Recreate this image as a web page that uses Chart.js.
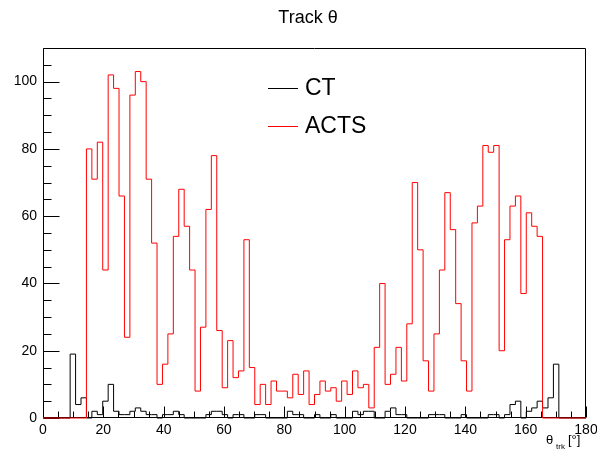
<!DOCTYPE html>
<html>
<head>
<meta charset="utf-8">
<script src="https://cdn.jsdelivr.net/npm/chart.js@4/dist/chart.umd.min.js"></script>
<style>
  html, body { margin: 0; padding: 0; background: #fff; }
  canvas { display: block; }
</style>
</head>
<body>
<canvas id="thetaChart" width="597" height="452"></canvas>
<script>
// Histogram binning: 100 bins over 0..180 degrees
const xMin = 0;
const xMax = 180;
const yMax = 110;

const chartTitle = 'Track θ';
const seriesNames = ['CT', 'ACTS'];
const xTicks = [0, 20, 40, 60, 80, 100, 120, 140, 160, 180];
const yTicks = [0, 20, 40, 60, 80, 100];

// Counts per bin
const ctCounts = [
  0, 0, 0, 0, 0, 19, 4, 6, 0, 2,
  1, 5, 10, 2, 1, 1, 2, 3, 2, 1,
  1, 0, 1, 1, 2, 1, 0, 0, 0, 0,
  1, 2, 2, 1, 0, 1, 1, 0, 0, 1,
  1, 0, 0, 0, 0, 2, 1, 1, 0, 0,
  1, 0, 0, 1, 0, 0, 0, 2, 1, 2,
  2, 0, 0, 2, 3, 1, 1, 0, 0, 0,
  0, 1, 1, 1, 0, 0, 0, 1, 0, 0,
  0, 0, 1, 1, 0, 1, 4, 5, 0, 2,
  3, 5, 3, 6, 16, 0, 0, 0, 0, 0
];

const actsCounts = [
  0, 0, 0, 0, 0, 0, 0, 0, 80, 71,
  82, 44, 102, 98, 66, 24, 96, 103, 100, 71,
  52, 10, 16, 25, 54, 68, 57, 44, 8, 27,
  62, 78, 26, 9, 23, 12, 14, 53, 15, 4,
  10, 4, 11, 8, 8, 6, 13, 7, 14, 4,
  7, 11, 8, 9, 5, 11, 7, 14, 9, 10,
  3, 21, 40, 10, 13, 21, 11, 28, 70, 50,
  17, 8, 25, 44, 67, 56, 34, 17, 8, 58,
  63, 81, 79, 81, 20, 53, 63, 66, 37, 61,
  57, 54, 0, 0, 0, 0, 0, 0, 0, 0
];

// turn bin contents into left-edge points for a stepped outline
function toSteps(counts) {
  const w = (xMax - xMin) / counts.length;
  const pts = counts.map((c, i) => ({ x: xMin + i * w, y: c }));
  pts.push({ x: xMax, y: counts[counts.length - 1] });
  return pts;
}

const FONT = '"Liberation Sans", Arial, Helvetica, sans-serif';

// frame, inward ticks, legend and titles in the usual ROOT look
const rootStyle = {
  id: 'rootStyle',
  beforeDatasetsDraw(chart) {
    const { ctx, chartArea: a, scales: { x, y } } = chart;
    const L = Math.round(a.left) + 0.5, R = Math.round(a.right) - 0.5;
    const T = Math.round(a.top) + 0.5, B = Math.round(a.bottom) - 0.5;
    ctx.save();
    ctx.strokeStyle = '#000';
    ctx.lineWidth = 1;
    ctx.beginPath();
    ctx.moveTo(L, B); ctx.lineTo(L, T); ctx.lineTo(R, T); ctx.lineTo(R, B); ctx.lineTo(L, B);
    for (let v = x.min; v <= x.max; v += 5) {
      const px = Math.round(x.getPixelForValue(v)) + 0.5;
      const len = v % 20 === 0 ? 11 : 6;
      ctx.moveTo(px, B); ctx.lineTo(px, B - len);
    }
    for (let v = y.min; v <= y.max; v += 5) {
      const py = Math.round(y.getPixelForValue(v)) + 0.5;
      const len = v % 20 === 0 ? 16 : 8;
      ctx.moveTo(L, py); ctx.lineTo(L + len, py);
    }
    ctx.stroke();
    ctx.restore();
  },
  afterDraw(chart) {
    const { ctx } = chart;
    ctx.save();
    ctx.fillStyle = '#000';
    ctx.textBaseline = 'middle';

    ctx.font = '18px ' + FONT;
    ctx.textAlign = 'center';
    ctx.fillText(chartTitle, 308, 18);

    // legend
    const colors = chart.data.datasets.map(d => d.borderColor);
    ctx.textAlign = 'left';
    ctx.font = '23px ' + FONT;
    [88, 126].forEach((ly, i) => {
      ctx.strokeStyle = colors[i];
      ctx.lineWidth = 1;
      ctx.beginPath();
      ctx.moveTo(268, ly + 0.5);
      ctx.lineTo(298, ly + 0.5);
      ctx.stroke();
      ctx.fillText(seriesNames[i], 305, ly + 1);
    });

    // x axis title: theta_trk [deg]
    ctx.textBaseline = 'alphabetic';
    ctx.font = '13px ' + FONT;
    ctx.fillText('θ', 546, 444);
    ctx.font = '8px ' + FONT;
    ctx.fillText('trk', 556, 449);
    ctx.font = '13px ' + FONT;
    ctx.fillText('[°]', 568, 444);
    ctx.restore();
  }
};

new Chart(document.getElementById('thetaChart'), {
  type: 'line',
  data: {
    datasets: [
      {
        label: seriesNames[0],
        data: toSteps(ctCounts),
        borderColor: '#000000',
        borderWidth: 1,
        stepped: true,
        pointRadius: 0,
        fill: false,
        clip: 4,
        order: 1
      },
      {
        label: seriesNames[1],
        data: toSteps(actsCounts),
        borderColor: '#ff0000',
        borderWidth: 1,
        stepped: true,
        pointRadius: 0,
        fill: false,
        clip: 4,
        order: 0
      }
    ]
  },
  options: {
    responsive: false,
    animation: false,
    devicePixelRatio: 1,
    layout: { padding: { top: 48, right: 0, bottom: 0, left: 0 } },
    plugins: {
      legend: { display: false },
      tooltip: { enabled: false },
      title: { display: false }
    },
    scales: {
      x: {
        type: 'linear',
        min: xMin,
        max: xMax,
        grid: { display: false, drawTicks: false, tickLength: 0 },
        border: { display: false },
        afterBuildTicks(scale) { scale.ticks = xTicks.map(v => ({ value: v })); },
        afterFit(scale) {
          scale.height = 34;
          scale.paddingLeft = 0;
          scale.paddingRight = 11;
        },
        ticks: { color: '#000', padding: 4, maxRotation: 0, font: { family: FONT, size: 14 } }
      },
      y: {
        type: 'linear',
        min: 0,
        max: yMax,
        grid: { display: false, drawTicks: false, tickLength: 0 },
        border: { display: false },
        afterBuildTicks(scale) { scale.ticks = yTicks.map(v => ({ value: v })); },
        afterFit(scale) {
          scale.width = 43;
          scale.paddingTop = 0;
          scale.paddingBottom = 0;
        },
        ticks: { color: '#000', padding: 6, font: { family: FONT, size: 14 } }
      }
    }
  },
  plugins: [rootStyle]
});
</script>
</body>
</html>
